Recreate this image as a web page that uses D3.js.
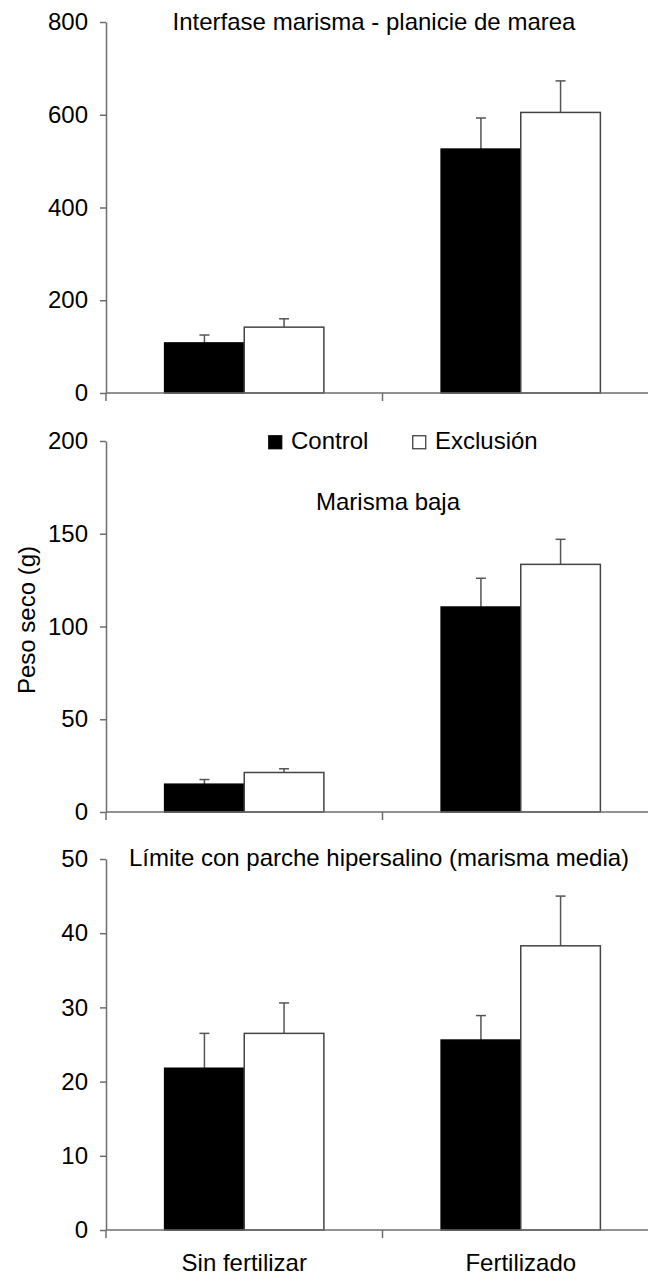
<!DOCTYPE html>
<html>
<head>
<meta charset="utf-8">
<script src="https://cdn.jsdelivr.net/npm/d3@7"></script>
<style>
  body { margin: 0; background: #fff; }
  svg text { font-family: "Liberation Sans", Arial, sans-serif; fill: #000; }
</style>
</head>
<body>
<svg id="chart" width="648" height="1281"></svg>
<script>
// data (dry weight, g)
var categories = ["Sin fertilizar", "Fertilizado"];
var series = ["Control", "Exclusión"];
var panelTitles = [
  "Interfase marisma - planicie de marea",
  "Marisma baja",
  "Límite con parche hipersalino (marisma media)"
];
var yMax = [800, 200, 50];
var yStep = [200, 50, 10];

var interfaseControl = [108, 526], interfaseControlErr = [17, 67];
var interfaseExclusion = [142, 605], interfaseExclusionErr = [18, 68];
var bajaControl = [15, 110.5], bajaControlErr = [2.5, 15.5];
var bajaExclusion = [21.3, 133.5], bajaExclusionErr = [2, 13.5];
var limiteControl = [21.8, 25.6], limiteControlErr = [4.7, 3.3];
var limiteExclusion = [26.5, 38.3], limiteExclusionErr = [4.1, 6.7];

var means = [
  [interfaseControl, interfaseExclusion],
  [bajaControl, bajaExclusion],
  [limiteControl, limiteExclusion]
];
var errs = [
  [interfaseControlErr, interfaseExclusionErr],
  [bajaControlErr, bajaExclusionErr],
  [limiteControlErr, limiteExclusionErr]
];

var svg = d3.select("#chart");
var axisColor = "#6e6e6e";
var fs = "24px";
var left = 106, right = 659, ph = 371;
var tops = [22, 441, 859];
var titlePos = [[374, 30], [388, 510], [379, 866]];

var x = d3.scaleBand().domain(categories).range([left, right]);
var bw = x.bandwidth();
var xs = d3.scaleBand().domain(series).range([bw * 0.212, bw * 0.788]);

tops.forEach(function(top, p) {
  var y = d3.scaleLinear().domain([0, yMax[p]]).range([top + ph, top]);
  var g = svg.append("g");

  var rows = [];
  categories.forEach(function(c, i) {
    series.forEach(function(s, j) {
      rows.push({cat: c, ser: s, v: means[p][j][i], e: errs[p][j][i]});
    });
  });

  // error bars (upper only)
  var eb = g.append("g").attr("stroke", "#555").attr("stroke-width", 1.5);
  rows.forEach(function(d) {
    var cx = x(d.cat) + xs(d.ser) + xs.bandwidth() / 2;
    eb.append("line").attr("x1", cx).attr("x2", cx)
      .attr("y1", y(d.v)).attr("y2", y(d.v + d.e));
    eb.append("line").attr("x1", cx - 5).attr("x2", cx + 5)
      .attr("y1", y(d.v + d.e)).attr("y2", y(d.v + d.e));
  });

  g.selectAll("rect.bar").data(rows).enter().append("rect")
    .attr("class", "bar")
    .attr("x", function(d) { return x(d.cat) + xs(d.ser); })
    .attr("y", function(d) { return y(d.v); })
    .attr("width", xs.bandwidth())
    .attr("height", function(d) { return y(0) - y(d.v); })
    .attr("fill", function(d) { return d.ser === "Control" ? "#000" : "#fff"; })
    .attr("stroke", function(d) { return d.ser === "Control" ? "#000" : "#444"; })
    .attr("stroke-width", 1.5);

  // y axis
  var ya = g.append("g").attr("transform", "translate(" + left + ",0)")
    .call(d3.axisLeft(y).tickValues(d3.range(0, yMax[p] + 1, yStep[p]))
      .tickSize(6).tickPadding(12).tickSizeOuter(0));
  ya.select(".domain").attr("stroke", axisColor).attr("stroke-width", 1.5);
  ya.selectAll(".tick line").attr("stroke", axisColor).attr("stroke-width", 1.5);
  ya.selectAll(".tick text").style("font-size", fs).attr("fill", "#000");

  // x axis: ticks at category boundaries
  var xa = g.append("g").attr("transform", "translate(0," + y(0) + ")");
  xa.append("line").attr("x1", left).attr("x2", right)
    .attr("stroke", axisColor).attr("stroke-width", 1.5);
  var bounds = categories.map(function(c) { return x(c); }).concat([x(categories[1]) + bw]);
  xa.selectAll("line.tk").data(bounds).enter().append("line")
    .attr("class", "tk")
    .attr("x1", function(d) { return d; }).attr("x2", function(d) { return d; })
    .attr("y1", 0).attr("y2", 8)
    .attr("stroke", axisColor).attr("stroke-width", 1.5);

  if (p === 2) {
    xa.selectAll("text.cat").data(categories).enter().append("text")
      .attr("class", "cat")
      .attr("x", function(d) { return x(d) + bw / 2; })
      .attr("y", 41)
      .attr("text-anchor", "middle")
      .style("font-size", fs)
      .text(function(d) { return d; });
  }

  svg.append("text")
    .attr("x", titlePos[p][0]).attr("y", titlePos[p][1])
    .attr("text-anchor", "middle")
    .style("font-size", fs)
    .text(panelTitles[p]);
});

// legend
var legX = [268, 412];
var leg = svg.append("g");
series.forEach(function(s, i) {
  leg.append("rect")
    .attr("x", legX[i] + 0.75).attr("y", 435.75)
    .attr("width", 13).attr("height", 13)
    .attr("fill", i === 0 ? "#000" : "#fff")
    .attr("stroke", i === 0 ? "#000" : "#333").attr("stroke-width", 1.2);
  leg.append("text")
    .attr("x", legX[i] + 23).attr("y", 449)
    .style("font-size", fs)
    .text(s);
});

// y axis title
svg.append("text")
  .attr("transform", "translate(35,620) rotate(-90)")
  .attr("text-anchor", "middle")
  .style("font-size", fs)
  .text("Peso seco (g)");
</script>
</body>
</html>
